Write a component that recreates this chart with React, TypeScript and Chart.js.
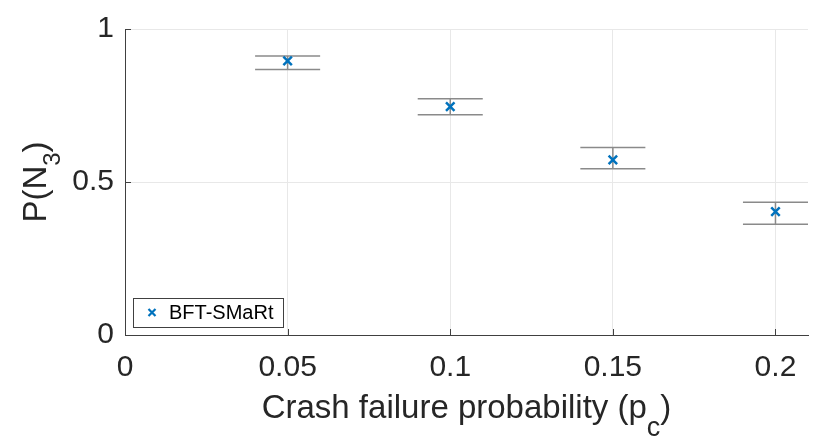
import { useEffect, useRef } from 'react';
import { Chart, registerables } from 'chart.js';

Chart.register(...registerables);

// Data
const seriesLabel = 'BFT-SMaRt';
const crashProb = [0.05, 0.1, 0.15, 0.2];
const probN3 = [0.896, 0.746, 0.572, 0.403];
const probLower = [0.868, 0.72, 0.543, 0.362];
const probUpper = [0.912, 0.772, 0.613, 0.434];
const xTicks = [0, 0.05, 0.1, 0.15, 0.2];
const yTicks = [0, 0.5, 1];

const FONT = '"Liberation Sans", Arial, Helvetica, sans-serif';
const TEXT = '#262626';
const BLUE = '#0072BD';
const CAP_HALF = 0.01;

// draws "main_sub close" centred on cx
function subText(
  ctx: CanvasRenderingContext2D,
  main: string,
  sub: string,
  close: string,
  cx: number,
  by: number,
  size: number,
  subSize: number,
  shift: number,
) {
  ctx.font = `${size}px ${FONT}`;
  const w1 = ctx.measureText(main).width;
  const w3 = ctx.measureText(close).width;
  ctx.font = `${subSize}px ${FONT}`;
  const w2 = ctx.measureText(sub).width;
  let x = cx - (w1 + w2 + w3) / 2;
  ctx.font = `${size}px ${FONT}`;
  ctx.fillText(main, x, by);
  x += w1;
  ctx.font = `${subSize}px ${FONT}`;
  ctx.fillText(sub, x, by + shift);
  x += w2;
  ctx.font = `${size}px ${FONT}`;
  ctx.fillText(close, x, by);
}

// error bars, inward tick marks, axis titles and the legend box
const decorations = {
  id: 'decorations',
  beforeDatasetsDraw(chart: Chart) {
    const { ctx, chartArea: a } = chart;
    const x = chart.scales.x;
    const y = chart.scales.y;
    ctx.save();
    ctx.beginPath();
    ctx.rect(a.left, a.top - 2, a.right - a.left, a.bottom - a.top + 4);
    ctx.clip();
    ctx.strokeStyle = '#8a8a8a';
    ctx.lineWidth = 1.5;
    crashProb.forEach((v, i) => {
      const cx = x.getPixelForValue(v);
      const l = x.getPixelForValue(v - CAP_HALF);
      const r = x.getPixelForValue(v + CAP_HALF);
      const lo = y.getPixelForValue(probLower[i]);
      const hi = y.getPixelForValue(probUpper[i]);
      ctx.beginPath();
      ctx.moveTo(cx, lo);
      ctx.lineTo(cx, hi);
      ctx.moveTo(l, lo);
      ctx.lineTo(r, lo);
      ctx.moveTo(l, hi);
      ctx.lineTo(r, hi);
      ctx.stroke();
    });
    ctx.restore();
  },
  afterDraw(chart: Chart) {
    const { ctx, chartArea: a } = chart;
    const x = chart.scales.x;
    const y = chart.scales.y;
    ctx.save();
    // inward ticks
    ctx.strokeStyle = '#404040';
    ctx.lineWidth = 1;
    ctx.beginPath();
    xTicks.forEach((v) => {
      const px = Math.round(x.getPixelForValue(v)) + 0.5;
      ctx.moveTo(px, a.bottom);
      ctx.lineTo(px, a.bottom - 6);
    });
    yTicks.forEach((v) => {
      const py = Math.round(y.getPixelForValue(v)) + 0.5;
      ctx.moveTo(a.left, py);
      ctx.lineTo(a.left + 6, py);
    });
    ctx.stroke();

    ctx.fillStyle = TEXT;
    ctx.textBaseline = 'alphabetic';
    ctx.textAlign = 'left';
    // x title
    subText(ctx, 'Crash failure probability (p', 'c', ')', (a.left + a.right) / 2, 418, 33, 27, 18);

    // y title, rotated
    ctx.save();
    ctx.translate(46, (a.top + a.bottom) / 2);
    ctx.rotate(-Math.PI / 2);
    subText(ctx, 'P(N', '3', ')', 0, 0, 33, 24, 14);
    ctx.restore();

    // legend
    const lx = a.left + 8;
    const lw = 150;
    const lh = 29;
    const ly = a.bottom - 8 - lh;
    ctx.fillStyle = '#ffffff';
    ctx.fillRect(lx, ly, lw, lh);
    ctx.strokeStyle = '#404040';
    ctx.lineWidth = 1;
    ctx.strokeRect(lx + 0.5, ly + 0.5, lw, lh);
    const mx = lx + 19;
    const my = ly + lh / 2;
    ctx.strokeStyle = BLUE;
    ctx.lineWidth = 2.2;
    ctx.beginPath();
    ctx.moveTo(mx - 3.5, my - 3.5);
    ctx.lineTo(mx + 3.5, my + 3.5);
    ctx.moveTo(mx - 3.5, my + 3.5);
    ctx.lineTo(mx + 3.5, my - 3.5);
    ctx.stroke();
    ctx.fillStyle = '#000000';
    ctx.font = `20px ${FONT}`;
    ctx.textBaseline = 'middle';
    ctx.fillText(seriesLabel, lx + 36, my + 1);
    ctx.restore();
  },
};

export default function App() {
  const canvasRef = useRef<HTMLCanvasElement>(null);
  const chartRef = useRef<Chart | null>(null);

  useEffect(() => {
    document.body.style.margin = '0';
    if (!canvasRef.current) return;
    if (chartRef.current) chartRef.current.destroy();

    chartRef.current = new Chart(canvasRef.current, {
      type: 'scatter',
      data: {
        datasets: [
          {
            label: seriesLabel,
            data: crashProb.map((v, i) => ({ x: v, y: probN3[i] })),
            pointStyle: 'crossRot',
            pointRadius: 6,
            pointBorderWidth: 2.5,
            borderColor: BLUE,
            backgroundColor: BLUE,
          },
        ],
      },
      options: {
        animation: false,
        responsive: false,
        devicePixelRatio: 1,
        layout: { padding: { left: 0, right: 22, top: 28, bottom: 0 } },
        plugins: {
          legend: { display: false },
          tooltip: { enabled: false },
        },
        scales: {
          x: {
            type: 'linear',
            min: 0,
            max: 0.21,
            afterBuildTicks: (s: any) => {
              s.ticks = xTicks.map((v) => ({ value: v }));
            },
            afterFit: (s: any) => {
              s.height = 111;
            },
            grid: { color: '#e8e8e8', drawTicks: false },
            border: { color: '#404040', width: 1 },
            ticks: {
              padding: 15,
              color: TEXT,
              font: { family: FONT, size: 30 },
              maxRotation: 0,
              callback: (v: any) => String(v),
            },
          },
          y: {
            type: 'linear',
            min: 0,
            max: 1,
            afterBuildTicks: (s: any) => {
              s.ticks = yTicks.map((v) => ({ value: v }));
            },
            afterFit: (s: any) => {
              s.width = 125;
            },
            grid: { color: '#e8e8e8', drawTicks: false },
            border: { color: '#404040', width: 1 },
            ticks: {
              padding: 11,
              color: TEXT,
              font: { family: FONT, size: 30 },
              callback: (v: any) => String(v),
            },
          },
        },
      },
      plugins: [decorations],
    });

    return () => {
      if (chartRef.current) {
        chartRef.current.destroy();
        chartRef.current = null;
      }
    };
  }, []);

  return (
    <div style={{ width: 830, height: 446 }}>
      <canvas ref={canvasRef} width={830} height={446} />
    </div>
  );
}
